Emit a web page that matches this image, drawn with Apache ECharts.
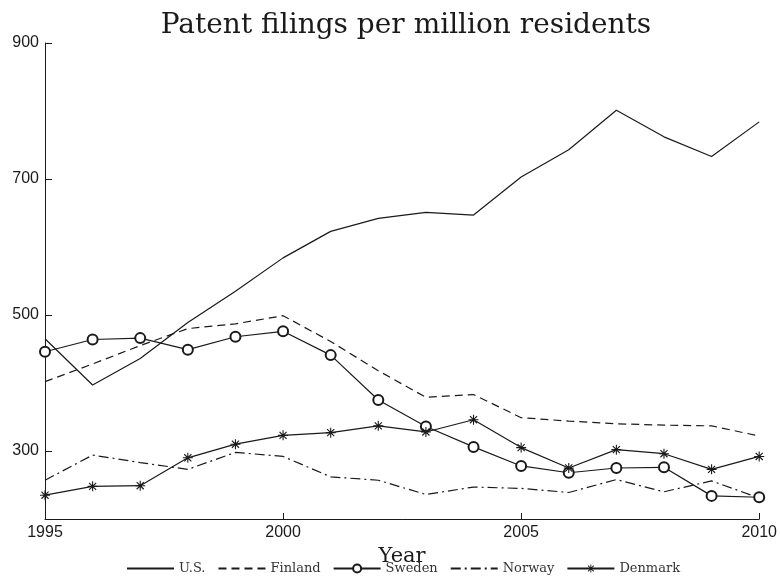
<!DOCTYPE html>
<html>
<head>
<meta charset="utf-8">
<script src="https://cdn.jsdelivr.net/npm/echarts@6/dist/echarts.min.js"></script>
<style>html,body{margin:0;padding:0;background:#fff}#c{width:780px;height:577px}</style>
</head>
<body>
<div id="c"></div>
<script>
var years = [1995,1996,1997,1998,1999,2000,2001,2002,2003,2004,2005,2006,2007,2008,2009,2010];
var us      = [465,397,436,489,535,584,623,642,651,647,703,743,801,762,733,784];
var finland = [402,428,455,480,487,499,461,418,379,383,349,344,340,338,337,322];
var sweden  = [446,464,466,449,468,476,441,375,336,306,278,268,275,276,234,232];
var norway  = [257,294,283,273,298,292,262,257,236,247,245,239,258,240,256,231];
var denmark = [235,248,249,290,310,323,327,337,328,346,305,275,302,296,273,292];
var seriesNames = ['U.S.','Finland','Sweden','Norway','Denmark'];
var yTicks = [300,500,700,900];
var xTicks = [1995,2000,2005,2010];

function pairs(v){ return years.map(function(y,i){ return [y, v[i]]; }); }
var ink = '#1a1a1a';
var asterisk = 'path://M-0.11,-1L0.11,-1L0.11,1L-0.11,1Z M-1,-0.11L1,-0.11L1,0.11L-1,0.11Z M-0.79,-0.63L-0.63,-0.79L0.79,0.63L0.63,0.79Z M0.63,-0.79L0.79,-0.63L-0.63,0.79L-0.79,0.63Z';
var plain = function(v){ return String(v); };

var chart = echarts.init(document.getElementById('c'), null, {renderer:'canvas'});
chart.setOption({
  animation:false,
  backgroundColor:'#fff',
  title:{text:'Patent filings per million residents', left:401, textAlign:'center', top:7,
    textStyle:{fontFamily:'DejaVu Serif', fontWeight:'normal', fontSize:28, color:ink}},
  grid:{left:45, right:18, top:43, bottom:58, containLabel:false},
  legend:{top:557, left:121, itemWidth:47, itemHeight:10, itemGap:12,
    textStyle:{fontFamily:'DejaVu Serif', fontSize:13, color:'#333'},
    data:[
      {name:seriesNames[0], itemStyle:{opacity:0}},
      {name:seriesNames[1], itemStyle:{opacity:0}},
      {name:seriesNames[2]},
      {name:seriesNames[3], itemStyle:{opacity:0}},
      {name:seriesNames[4]}
    ]},
  xAxis:{type:'value', min:1995, max:2010, interval:5,
    name:'Year', nameLocation:'middle', nameGap:18,
    nameTextStyle:{fontFamily:'DejaVu Serif', fontSize:21, color:ink},
    axisLine:{lineStyle:{color:ink, width:1}},
    axisTick:{inside:true, length:6, lineStyle:{color:ink}, customValues:xTicks},
    axisLabel:{fontFamily:'Liberation Sans', fontSize:16, color:ink, margin:6, customValues:xTicks, formatter:plain},
    splitLine:{show:false}},
  yAxis:{type:'value', min:200, max:900, interval:100,
    axisLine:{show:true, lineStyle:{color:ink, width:1}},
    axisTick:{show:true, inside:true, length:7, lineStyle:{color:ink}, customValues:yTicks},
    axisLabel:{fontFamily:'Liberation Sans', fontSize:16, color:ink, margin:6, customValues:yTicks, formatter:plain},
    splitLine:{show:false}},
  series:[
    {name:seriesNames[0], type:'line', data:pairs(us), symbol:'none', lineStyle:{color:ink, width:1.2}, itemStyle:{color:ink}},
    {name:seriesNames[1], type:'line', data:pairs(finland), symbol:'none', lineStyle:{color:ink, width:1.2, type:[8,5]}, itemStyle:{color:ink}},
    {name:seriesNames[2], type:'line', data:pairs(sweden), symbol:'emptyCircle', symbolSize:10, showAllSymbol:true,
      lineStyle:{color:ink, width:1.2}, itemStyle:{color:ink, borderColor:ink, borderWidth:1.2}},
    {name:seriesNames[3], type:'line', data:pairs(norway), symbol:'none', lineStyle:{color:ink, width:1.2, type:[10,4,2,4]}, itemStyle:{color:ink}},
    {name:seriesNames[4], type:'line', data:pairs(denmark), symbol:asterisk, symbolSize:10, showAllSymbol:true,
      lineStyle:{color:ink, width:1.2}, itemStyle:{color:ink, borderWidth:0}}
  ]
});
</script>
</body>
</html>
